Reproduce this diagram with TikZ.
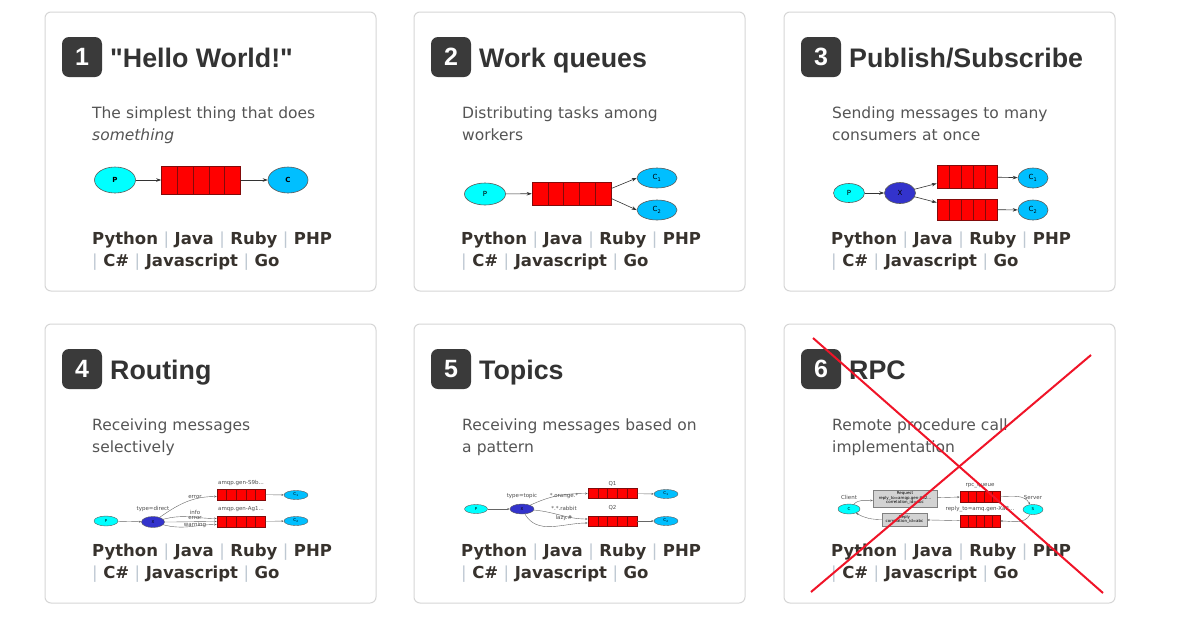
\documentclass[tikz,border=0pt]{standalone}
\usepackage{fontspec}
\setmainfont{DejaVu Sans}
\newfontfamily\headfont{Liberation Sans}
\usetikzlibrary{shapes.geometric,arrows.meta,positioning,calc}

\definecolor{framegray}{RGB}{214,214,214}
\definecolor{badgegray}{RGB}{58,58,58}
\definecolor{titlegray}{RGB}{51,51,51}
\definecolor{bodygray}{RGB}{85,85,85}
\definecolor{linkgray}{RGB}{55,50,45}
\definecolor{pipegray}{RGB}{190,200,210}
\definecolor{prodcyan}{RGB}{0,255,255}
\definecolor{conscyan}{RGB}{0,191,255}
\definecolor{exchblue}{RGB}{51,51,204}
\definecolor{qred}{RGB}{255,0,0}
\definecolor{qedge}{RGB}{130,10,10}
\definecolor{nodeline}{RGB}{90,90,90}
\definecolor{notegray}{RGB}{211,211,211}
\definecolor{crossred}{RGB}{240,20,40}

\newcommand\langsep{{\mdseries\color{pipegray}|}}

% frame, badge, title and language links of one tutorial card
\newcommand\tutorialcard[4]{%
  \draw[card] (#2,#3) rectangle ++(331,279);
  \node[badge] (badge#1) at ({#2+37},{#3+45}) {#1};
  \node[cardtitle] (title#1) at ({#2+65},{#3+55}) {#4};
  \node[langs] (langs#1) at ({#2+47},{#3+232})
    {Python \langsep{} Java \langsep{} Ruby \langsep{} PHP\\\langsep{} C\# \langsep{} Javascript \langsep{} Go};
}

\begin{document}
\begin{tikzpicture}[
    x=1pt, y=-1pt,
    card/.style={draw=framegray, fill=white, rounded corners=6pt, line width=1pt},
    badge/.style={fill=badgegray, rounded corners=7pt, minimum size=40pt, inner sep=0pt, text=white, font=\headfont\bfseries\fontsize{25}{25}\selectfont},
    cardtitle/.style={anchor=base west, inner sep=0pt, text=titlegray, font=\headfont\bfseries\fontsize{26.8}{30}\selectfont},
    blurb/.style={anchor=base west, inner sep=0pt, text width=280pt, align=left, text=bodygray, font=\fontsize{15.5}{22}\selectfont},
    langs/.style={anchor=base west, inner sep=0pt, text width=290pt, align=left, text=linkgray, font=\bfseries\fontsize{16.5}{22}\selectfont},
    prod/.style={ellipse, draw=nodeline, fill=prodcyan, inner sep=0pt, line width=0.6pt, font=\fontsize{7}{7}\selectfont},
    cons/.style={ellipse, draw=nodeline, fill=conscyan, inner sep=0pt, line width=0.6pt, font=\fontsize{7}{7}\selectfont},
    exch/.style={ellipse, draw=nodeline, fill=exchblue, inner sep=0pt, line width=0.6pt, font=\fontsize{7}{7}\selectfont},
    mini/.style={line width=0.4pt, font=\fontsize{4}{4}\selectfont},
    queue/.style={rectangle, draw=qedge, fill=qred, inner sep=0pt, line width=0.6pt,
      path picture={
        \foreach \k in {0.2,0.4,0.6,0.8}
          \draw[qedge, line width=0.5pt]
            ($(path picture bounding box.north west)!\k!(path picture bounding box.north east)$) --
            ($(path picture bounding box.south west)!\k!(path picture bounding box.south east)$);
      }},
    msgbox/.style={rectangle, draw=gray, fill=notegray, inner sep=1pt, align=center, line width=0.4pt, font=\fontsize{4}{4.5}\selectfont},
    flow/.style={-{Stealth[length=5pt,width=3.5pt]}, line width=0.6pt, draw=black!80},
    tinyflow/.style={-{Stealth[length=2.5pt,width=2pt]}, line width=0.4pt, draw=black!60},
    tag/.style={inner sep=0pt, text=black!70, font=\fontsize{5.5}{6}\selectfont},
    cancelline/.style={draw=crossred, line width=2pt}
  ]
  \fill[white] (0,0) rectangle (1181,619);
  \useasboundingbox (0,0) rectangle (1181,619);

  % cards
  \tutorialcard{1}{45}{12}{"Hello World!"}
  \tutorialcard{2}{414}{12}{Work queues}
  \tutorialcard{3}{784}{12}{Publish/Subscribe}
  \tutorialcard{4}{45}{324}{Routing}
  \tutorialcard{5}{414}{324}{Topics}
  \tutorialcard{6}{784}{324}{RPC}

  \node[blurb] (blurb1) at (92,118) {The simplest thing that does\\\textit{something}};
  \node[blurb] (blurb2) at (462,118) {Distributing tasks among\\workers};
  \node[blurb] (blurb3) at (832,118) {Sending messages to many\\consumers at once};
  \node[blurb] (blurb4) at (92,430) {Receiving messages\\selectively};
  \node[blurb] (blurb5) at (462,430) {Receiving messages based on\\a pattern};
  \node[blurb] (blurb6) at (832,430) {Remote procedure call\\implementation};

  % 1: hello world
  \node[prod, minimum width=41pt, minimum height=26pt] (p1) at (115,180) {\bfseries P};
  \node[queue, minimum width=79pt, minimum height=28pt] (q1) at (201,180) {};
  \node[cons, minimum width=40pt, minimum height=26pt] (c1) at (288,180) {\bfseries C};
  \draw[flow] (p1) -- (q1);
  \draw[flow] (q1) -- (c1);

  % 2: work queues
  \node[prod, minimum width=41pt, minimum height=22pt] (p2) at (485,194) {P};
  \node[queue, minimum width=79pt, minimum height=23pt] (q2) at (571.5,193.5) {};
  \node[cons, minimum width=40pt, minimum height=20pt] (c2a) at (657,178) {C\textsubscript{1}};
  \node[cons, minimum width=40pt, minimum height=20pt] (c2b) at (657,210) {C\textsubscript{2}};
  \draw[flow] (p2) -- (q2);
  \draw[flow] ([yshift=5pt]q2.east) -- (c2a.west);
  \draw[flow] ([yshift=-5pt]q2.east) -- (c2b.west);

  % 3: publish/subscribe
  \node[prod, minimum width=31pt, minimum height=19pt] (p3) at (849,193) {P};
  \node[exch, minimum width=31pt, minimum height=21pt] (x3) at (900,193) {X};
  \node[queue, minimum width=60pt, minimum height=23pt] (q3a) at (967,176.5) {};
  \node[queue, minimum width=60pt, minimum height=21pt] (q3b) at (967,209.5) {};
  \node[cons, minimum width=30pt, minimum height=20pt] (c3a) at (1033,178) {C\textsubscript{1}};
  \node[cons, minimum width=30pt, minimum height=20pt] (c3b) at (1033,210) {C\textsubscript{2}};
  \draw[flow] (p3) -- (x3);
  \draw[flow] (x3) -- ([yshift=-7pt]q3a.west);
  \draw[flow] (x3) -- ([yshift=7pt]q3b.west);
  \draw[flow] (q3a) -- (c3a);
  \draw[flow] (q3b) -- (c3b);

  % 4: routing
  \node[prod, mini, minimum width=24pt, minimum height=10pt] (p4) at (106,521) {P};
  \node[exch, mini, minimum width=23pt, minimum height=11pt] (x4) at (153,522) {X};
  \node[queue, minimum width=48pt, minimum height=11pt] (q4a) at (241,494.5) {};
  \node[queue, minimum width=48pt, minimum height=11pt] (q4b) at (241,521.5) {};
  \node[cons, mini, minimum width=24pt, minimum height=9pt] (c4a) at (296,495) {C\textsubscript{1}};
  \node[cons, mini, minimum width=24pt, minimum height=9pt] (c4b) at (296,521) {C\textsubscript{2}};
  \node[tag] (q4aname) at (241,483) {amqp.gen-S9b...};
  \node[tag] (q4bname) at (241,509) {amqp.gen-Ag1...};
  \node[tag] (x4type) at (153,509) {type=direct};
  \node[tag] (k4a) at (195,497) {error};
  \node[tag] (k4b) at (195,512) {info};
  \node[tag] (k4c) at (195,518) {error};
  \node[tag] (k4d) at (195,524.5) {warning};
  \draw[tinyflow] (p4) -- (x4);
  \draw[tinyflow] (x4) to[out=35, in=180] ([yshift=-2pt]q4a.west);
  \draw[tinyflow] (x4) to[out=15, in=180] ([yshift=3pt]q4b.west);
  \draw[tinyflow] (x4) to[out=0, in=180] (q4b.west);
  \draw[tinyflow] (x4) to[out=-15, in=180] ([yshift=-3pt]q4b.west);
  \draw[tinyflow] (q4a) -- (c4a);
  \draw[tinyflow] (q4b) -- (c4b);

  % 5: topics
  \node[prod, mini, minimum width=23pt, minimum height=9pt] (p5) at (476,509) {P};
  \node[exch, mini, minimum width=24pt, minimum height=10pt] (x5) at (522,509) {X};
  \node[queue, minimum width=49pt, minimum height=10pt] (q5a) at (612.5,493.5) {};
  \node[queue, minimum width=49pt, minimum height=10pt] (q5b) at (612.5,521) {};
  \node[cons, mini, minimum width=24pt, minimum height=9pt] (c5a) at (666,494) {C\textsubscript{1}};
  \node[cons, mini, minimum width=24pt, minimum height=9pt] (c5b) at (666,521) {C\textsubscript{2}};
  \node[tag] (q5aname) at (612.5,484) {Q1};
  \node[tag] (q5bname) at (612.5,508) {Q2};
  \node[tag] (x5type) at (522,496) {type=topic};
  \node[tag] (k5a) at (564,496) {*.orange.*};
  \node[tag] (k5b) at (564,508) {*.*.rabbit};
  \node[tag] (k5c) at (564,518) {lazy.\#};
  \draw[tinyflow] (p5) -- (x5);
  \draw[tinyflow] (x5) to[out=25, in=180] (q5a.west);
  \draw[tinyflow] (x5) to[out=-5, in=180] ([yshift=2pt]q5b.west);
  \draw[tinyflow] (x5) to[out=-60, in=180] ([yshift=-2pt]q5b.west);
  \draw[tinyflow] (q5a) -- (c5a);
  \draw[tinyflow] (q5b) -- (c5b);

  % 6: rpc
  \node[prod, mini, minimum width=22pt, minimum height=10pt] (cli6) at (849,509) {C};
  \node[tag] (cli6name) at (849,497) {Client};
  \node[msgbox, minimum width=64pt, minimum height=17pt] (req6) at (905,498.5) {Request\\reply\_to=amqp.gen-Xa2...\\correlation\_id=abc};
  \node[msgbox, minimum width=45pt, minimum height=13pt] (rep6) at (904.5,519.5) {Reply\\correlation\_id=abc};
  \node[queue, minimum width=40pt, minimum height=11pt] (rq6) at (980,496.5) {};
  \node[tag] (rq6name) at (980,486) {rpc\_queue};
  \node[queue, minimum width=40pt, minimum height=12pt] (rpq6) at (980,521) {};
  \node[tag] (rpq6name) at (980,509) {reply\_to=amq.gen-Xa2...};
  \node[prod, mini, minimum width=20pt, minimum height=10pt] (srv6) at (1033,509.5) {S};
  \node[tag] (srv6name) at (1033,497) {Server};
  \draw[tinyflow] (cli6) to[out=45, in=180] ([yshift=-2pt]req6.west);
  \draw[tinyflow] (req6) -- (rq6);
  \draw[tinyflow] (rq6.east) to[out=0, in=120] (srv6);
  \draw[tinyflow] (srv6) to[out=-120, in=0] (rpq6.east);
  \draw[tinyflow] (rpq6) -- (rep6);
  \draw[tinyflow] (rep6.west) to[out=180, in=-30] (cli6);

  % crossed out
  \draw[cancelline] (813,338) -- (1103,593);
  \draw[cancelline] (1091,355) -- (811,592);
\end{tikzpicture}
\end{document}
